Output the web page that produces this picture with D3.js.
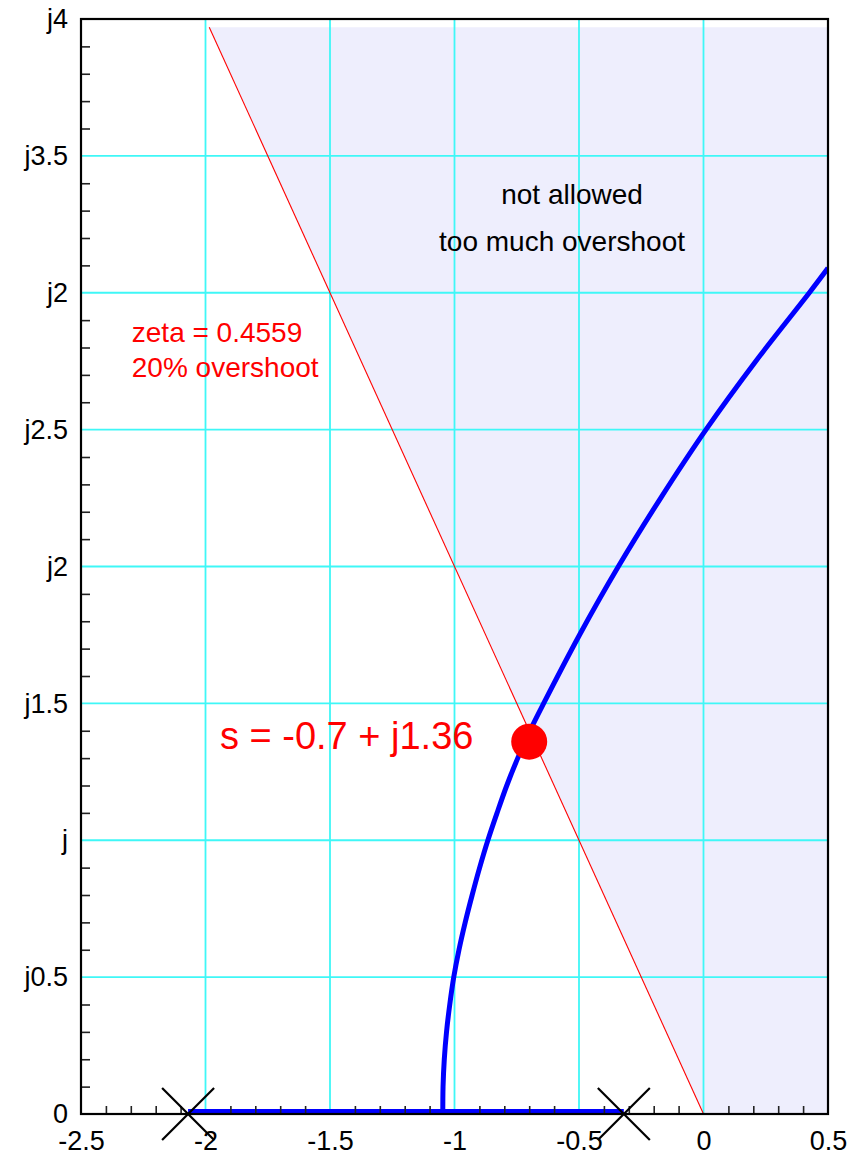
<!DOCTYPE html>
<html>
<head>
<meta charset="utf-8">
<script src="https://cdn.jsdelivr.net/npm/d3@7"></script>
<style>
  html, body { margin: 0; padding: 0; background: #fff; }
  svg { display: block; font-family: "Liberation Sans", Arial, Helvetica, sans-serif; }
</style>
</head>
<body>
<svg id="chart" width="865" height="1155"></svg>
<script>
// Axis ticks and labels
const xTicks = [-2.5, -2, -1.5, -1, -0.5, 0, 0.5];
const xTickLabels = ["-2.5", "-2", "-1.5", "-1", "-0.5", "0", "0.5"];
const yTicks = [0, 0.5, 1, 1.5, 2, 2.5, 3, 3.5, 4];
const yTickLabels = ["0", "j0.5", "j", "j1.5", "j2", "j2.5", "j2", "j3.5", "j4"];

// Open-loop poles on the real axis
const poles = [-2.07, -0.32];

// Root locus: real-axis segment between the poles
const realAxisLocus = [[-2.07, 0], [-0.32, 0]];

// Root locus: branch leaving the real axis (upper half plane), [re, im]
const complexLocus = [
  [-1.047, 0.0], [-1.046, 0.1], [-1.041, 0.2], [-1.032, 0.3],
  [-1.019, 0.4], [-1.003, 0.5], [-0.982, 0.6], [-0.957, 0.7],
  [-0.929, 0.8], [-0.899, 0.9], [-0.866, 1.0], [-0.829, 1.1],
  [-0.790, 1.2], [-0.746, 1.3], [-0.697, 1.4], [-0.642, 1.5],
  [-0.498, 1.75], [-0.342, 2.0], [-0.172, 2.25],
  [0.010, 2.5], [0.210, 2.75], [0.425, 3.0], [0.5, 3.09]
];

// Constant damping ratio line (zeta = 0.4559)
const zetaLine = [[0, 0], [-1.985, 3.97]];

// Chosen closed-loop pole
const operatingPoint = [-0.7, 1.36];

// Annotation anchors (data coordinates)
const zetaNote = { x: -2.296, y: 2.82, lines: ["zeta = 0.4559", "20% overshoot"] };
const regionNote = { x: [-0.528, -0.568], y: 3.325, lines: ["not allowed", "too much overshoot"] };
const pointNote = { x: -1.942, y: 1.335, text: "s = -0.7 + j1.36" };

const svg = d3.select("#chart");
const plotL = 81, plotR = 828, plotT = 19, plotB = 1114;

const x = d3.scaleLinear().domain([-2.5, 0.5]).range([plotL, plotR]);
const y = d3.scaleLinear().domain([0, 4]).range([plotB, plotT]);
const line = d3.line().x(d => x(d[0])).y(d => y(d[1]));

svg.append("defs").append("clipPath").attr("id", "plotClip")
  .append("rect").attr("x", plotL).attr("y", plotT)
  .attr("width", plotR - plotL).attr("height", plotB - plotT);

// Shaded "not allowed" region to the right of the zeta line
const shade = [zetaLine[0], zetaLine[1], [0.5, zetaLine[1][1]], [0.5, 0]];
svg.append("path").attr("d", line(shade) + "Z").attr("fill", "#eeeefd");

// Grid lines
const grid = svg.append("g").attr("stroke", "#3ff7f7").attr("stroke-width", 1.8);
grid.selectAll("line.v").data(xTicks.slice(1, -1)).join("line").attr("class", "v")
  .attr("x1", d => x(d)).attr("x2", d => x(d)).attr("y1", plotT).attr("y2", plotB);
grid.selectAll("line.h").data(yTicks.slice(1, -1)).join("line").attr("class", "h")
  .attr("y1", d => y(d)).attr("y2", d => y(d)).attr("x1", plotL).attr("x2", plotR);

// Zeta line
svg.append("path").attr("d", line(zetaLine))
  .attr("stroke", "#ff0000").attr("stroke-width", 1.1).attr("fill", "none");

// Root locus branches
const locus = svg.append("g").attr("clip-path", "url(#plotClip)")
  .attr("fill", "none").attr("stroke", "#0000ff");
locus.append("path").attr("d", line(realAxisLocus)).attr("stroke-width", 10);
locus.append("path")
  .attr("d", d3.line().x(d => x(d[0])).y(d => y(d[1])).curve(d3.curveCatmullRom.alpha(0.5))(complexLocus))
  .attr("stroke-width", 5);

// Operating point marker
svg.append("circle")
  .attr("cx", x(operatingPoint[0])).attr("cy", y(operatingPoint[1]))
  .attr("r", 18).attr("fill", "#ff0000");

// Annotations
const zt = svg.append("text").attr("fill", "#ff0000").attr("font-size", 28)
  .attr("x", x(zetaNote.x)).attr("y", y(zetaNote.y));
zt.selectAll("tspan").data(zetaNote.lines).join("tspan")
  .attr("x", x(zetaNote.x)).attr("dy", (d, i) => i === 0 ? 0 : 35).text(d => d);

const rt = svg.append("text").attr("fill", "#000").attr("font-size", 28)
  .attr("text-anchor", "middle").attr("y", y(regionNote.y));
rt.selectAll("tspan").data(regionNote.lines).join("tspan")
  .attr("x", (d, i) => x(regionNote.x[i]))
  .attr("dy", (d, i) => i === 0 ? 0 : 47).text(d => d);

svg.append("text").attr("fill", "#ff0000").attr("font-size", 38)
  .attr("x", x(pointNote.x)).attr("y", y(pointNote.y)).text(pointNote.text);

// Minor ticks (every 0.1), pointing into the plot
const isMajor = v => Math.abs(v * 2 - Math.round(v * 2)) < 1e-6;
const xMinor = d3.range(-25, 6).map(i => i / 10).filter(v => !isMajor(v));
const yMinor = d3.range(0, 41).map(i => i / 10).filter(v => !isMajor(v));

const xMinorAxis = svg.append("g").attr("transform", `translate(0,${plotB})`)
  .call(d3.axisBottom(x).tickValues(xMinor).tickSize(-8).tickFormat(""));
const yMinorAxis = svg.append("g").attr("transform", `translate(${plotL},0)`)
  .call(d3.axisLeft(y).tickValues(yMinor).tickSize(-9).tickFormat(""));
[xMinorAxis, yMinorAxis].forEach(g => {
  g.select(".domain").remove();
  g.selectAll(".tick line").attr("stroke", "#222").attr("stroke-width", 1.6);
});

// Tick labels
const xLabelAxis = svg.append("g").attr("transform", `translate(0,${plotB})`)
  .call(d3.axisBottom(x).tickValues(xTicks).tickSize(0).tickPadding(17)
    .tickFormat((d, i) => xTickLabels[i]));
const yLabelAxis = svg.append("g").attr("transform", `translate(${plotL},0)`)
  .call(d3.axisLeft(y).tickValues(yTicks).tickSize(0).tickPadding(13)
    .tickFormat((d, i) => yTickLabels[i]));
[xLabelAxis, yLabelAxis].forEach(g => {
  g.select(".domain").remove();
  g.selectAll("text").attr("font-size", 27).attr("fill", "#000")
    .attr("font-family", "Liberation Sans, Arial, sans-serif");
});

// Plot frame
svg.append("rect").attr("x", plotL).attr("y", plotT)
  .attr("width", plotR - plotL).attr("height", plotB - plotT)
  .attr("fill", "none").attr("stroke", "#000").attr("stroke-width", 2.2);

// Pole markers
const px = svg.append("g").attr("stroke", "#000").attr("stroke-width", 2.2);
poles.forEach(p => {
  const cx = x(p), cy = y(0), h = 26;
  px.append("line").attr("x1", cx - h).attr("y1", cy - h).attr("x2", cx + h).attr("y2", cy + h);
  px.append("line").attr("x1", cx - h).attr("y1", cy + h).attr("x2", cx + h).attr("y2", cy - h);
});
</script>
</body>
</html>
